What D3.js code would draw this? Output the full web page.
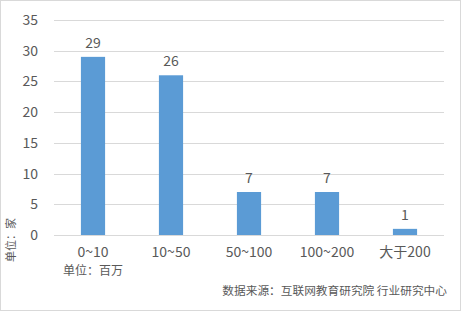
<!DOCTYPE html>
<html>
<head>
<meta charset="utf-8">
<script src="https://cdn.jsdelivr.net/npm/d3@7"></script>
<style>
  body { margin: 0; background: #fff; }
  text { font-family: "Noto Sans CJK SC", "Noto Sans", sans-serif; fill: #595959; }
</style>
</head>
<body>
<div id="chart"></div>
<script>
var categories = ["0~10", "10~50", "50~100", "100~200", "大于200"];
var values     = [29, 26, 7, 7, 1];
var yTicks     = [0, 5, 10, 15, 20, 25, 30, 35];

var W = 461, H = 311;
var margin = {top: 20, right: 17, bottom: 76, left: 54},
    width  = W - margin.left - margin.right,
    height = H - margin.top - margin.bottom;

var svg = d3.select("#chart").append("svg")
    .attr("width", W)
    .attr("height", H);

// outer frame
svg.append("rect")
    .attr("x", 0.5).attr("y", 0.5)
    .attr("width", W - 1).attr("height", H - 1)
    .attr("fill", "#fff")
    .attr("stroke", "#d9d9d9");

var g = svg.append("g")
    .attr("transform", "translate(" + margin.left + "," + margin.top + ")");

var x = d3.scaleBand()
    .domain(categories)
    .range([0, width])
    .paddingInner(0.69)
    .paddingOuter(0.345);

var y = d3.scaleLinear()
    .domain([0, 35])
    .range([height, 0]);

// gridlines
g.selectAll(".grid")
    .data(yTicks)
  .enter().append("line")
    .attr("x1", 0).attr("x2", width)
    .attr("y1", function(d) { return Math.round(y(d)) + 0.5; })
    .attr("y2", function(d) { return Math.round(y(d)) + 0.5; })
    .attr("stroke", "#d9d9d9");

// y axis labels
var yAxis = g.append("g")
    .call(d3.axisLeft(y).tickValues(yTicks).tickSize(0).tickPadding(16));
yAxis.select(".domain").remove();
yAxis.selectAll("text")
    .style("font-size", "14px")
    .attr("fill", "#595959");

// x axis labels
var xAxis = g.append("g")
    .attr("transform", "translate(0," + height + ")")
    .call(d3.axisBottom(x).tickSize(0).tickPadding(12));
xAxis.select(".domain").remove();
xAxis.selectAll("text")
    .style("font-size", "14px")
    .attr("fill", "#595959");

// bars
g.selectAll(".bar")
    .data(values)
  .enter().append("rect")
    .attr("x", function(d, i) { return x(categories[i]); })
    .attr("y", function(d) { return y(d); })
    .attr("width", x.bandwidth())
    .attr("height", function(d) { return height - y(d); })
    .attr("fill", "#5B9BD5");

// value labels
g.selectAll(".lbl")
    .data(values)
  .enter().append("text")
    .attr("x", function(d, i) { return x(categories[i]) + x.bandwidth() / 2; })
    .attr("y", function(d) { return y(d) - 9; })
    .attr("text-anchor", "middle")
    .style("font-size", "14px")
    .text(function(d) { return d; });

// unit labels
svg.append("text")
    .attr("transform", "translate(15,240) rotate(-90)")
    .attr("text-anchor", "middle")
    .style("font-size", "11px")
    .text("单位：家");

svg.append("text")
    .attr("x", 63).attr("y", 275)
    .style("font-size", "12px")
    .text("单位：百万");

svg.append("text")
    .attr("x", 447).attr("y", 295)
    .attr("text-anchor", "end")
    .style("font-size", "11.7px")
    .text("数据来源：互联网教育研究院 行业研究中心");
</script>
</body>
</html>
